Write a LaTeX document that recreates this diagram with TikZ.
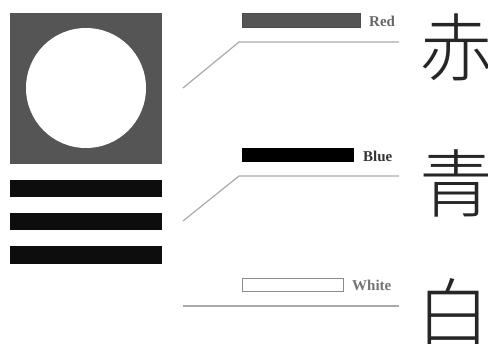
\documentclass[tikz,border=0pt]{standalone}
\usepackage{fontspec}
\setmainfont{Liberation Serif}
\newfontfamily\cjk{Noto Sans CJK SC Light}
\definecolor{dgray}{HTML}{555555}
\definecolor{lgray}{HTML}{AAAAAA}
\begin{document}
\begin{tikzpicture}[x=1pt,y=-1pt,
  leader/.style={draw=lgray,line width=1.2pt},
  swatch/.style={line width=0.8pt},
  lbl/.style={anchor=west,inner sep=0pt,font=\bfseries\fontsize{15}{15}\selectfont},
  hanzi/.style={inner sep=0pt,text=black!85,font=\cjk\fontsize{74}{74}\selectfont}]
\useasboundingbox (0,0) rectangle (488,344);
% left emblem
\fill[dgray] (10,13) rectangle (162,164);
\fill[white] (86,88) circle (60);
\fill[black!95] (10,180) rectangle (162,197);
\fill[black!95] (10,213) rectangle (162,230);
\fill[black!95] (10,246) rectangle (162,264);
% Red
\node[draw=black!70,fill=dgray,swatch,minimum width=118pt,minimum height=14pt,inner sep=0pt] (sr) at (301.5,20.5) {};
\node[lbl,text=black!60] (lr) at (369,21) {Red};
\coordinate (r0) at (183,88);
\coordinate (r1) at (239,42);
\coordinate (r2) at (399,42);
\draw[leader] (r0) -- (r1) -- (r2);
\node[hanzi] (cr) at (456,47) {赤};
% Blue
\node[draw=black,fill=black,swatch,minimum width=111pt,minimum height=13pt,inner sep=0pt] (sb) at (298,155) {};
\node[lbl,text=black!80] (lb) at (363,156) {Blue};
\coordinate (b0) at (183,221);
\coordinate (b1) at (239,176);
\coordinate (b2) at (399,176);
\draw[leader] (b0) -- (b1) -- (b2);
\node[hanzi] (cb) at (456,183) {青};
% White
\node[draw=black!45,fill=white,swatch,minimum width=101pt,minimum height=13pt,inner sep=0pt] (sw) at (293,285) {};
\node[lbl,text=black!55] (lw) at (352,285.5) {White};
\coordinate (w0) at (183,306);
\coordinate (w1) at (399,306);
\draw[leader] (w0) -- (w1);
\node[hanzi,anchor=north] (cw) at (453,278) {白};
\end{tikzpicture}
\end{document}
